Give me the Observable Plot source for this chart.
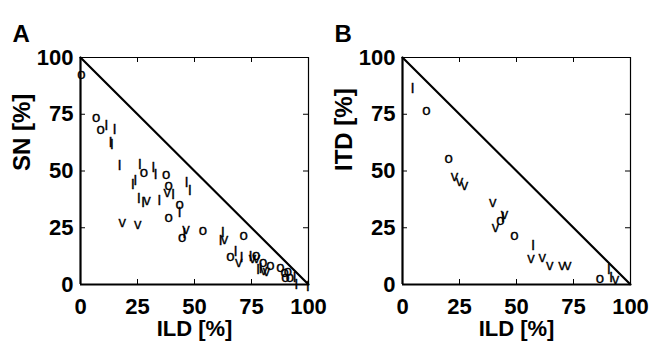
<!DOCTYPE html>
<html><head><meta charset="utf-8">
<script src="https://cdn.jsdelivr.net/npm/d3@7"></script>
<script src="https://cdn.jsdelivr.net/npm/@observablehq/plot@0.6"></script>
<style>
body{margin:0;background:#fff;}
#chart{display:flex;width:653px;height:350px;}
#chart svg{display:block;}
</style></head><body><div id="chart"></div>
<script>
const tickValues = [0, 25, 50, 75, 100];
const innerTicks = [25, 50, 75];
const diagonal = [{x: 0, y: 100}, {x: 100, y: 0}];

// Panel A: ILD vs SN, marker symbols
const aSym = ["o","o","o","I","I","I","I","I","I","o","I","I","o","I","I","o","v","I","I","I","I","I","v","I","o","I","o","v","v","v","I","o","o","I","v","I","o","o","I","v","I","I","v","v","o","I","I","v","v","o","o","o","o","o","o","o","I","I","I"];
const aILD = [0.4,6.9,8.8,11.3,15,13.2,13.7,17.1,26,27.8,31.9,32.9,37.6,22.9,24.1,38.7,38,40.6,46.5,47.9,25.6,27.5,29.2,34.6,43.5,43.5,38.7,18.3,25.1,46.3,45.5,44.6,53.7,62.4,63.2,61.4,71.6,65.8,68,69.4,70.6,74.6,75.4,77.2,77,77.9,79,80.4,81.6,80.1,83.3,87.7,89.5,89.9,91.8,91,93.9,94.7,99.7];
const aSN  = [92.8,73.7,68.6,70,68.6,62.8,62,52.4,53.2,49.5,51.7,48.5,48.8,44.3,46.1,43.6,40.8,40,45.1,41.4,38,36.3,37,37,35.5,31.9,29.7,27.6,26.7,24.5,22.8,20.9,23.8,23.1,19.8,19.4,21.6,12.5,14.8,10,12,12.3,11.5,11.5,12.8,6.9,7,6.2,6,9.9,8.4,7.6,5.5,3.2,3.2,6,3.2,0.3,-0.6];

// Panel B: ILD vs ITD
const bSym = ["I","o","o","v","v","v","v","v","o","I","v","o","I","v","v","v","v","v","o","I","I","v"];
const bILD = [4.4,10.5,20.2,22.8,25,27.2,39.6,40.8,43,44,44.7,49.1,57.3,56.4,61.3,64.6,70,72.5,86.6,90.5,91.5,93.4];
const bITD = [86.6,76.7,55.5,47.6,45.4,43.6,36.3,25.3,28.2,29.5,31.1,21.6,17.2,11.7,12,8.4,8.4,8.4,3,6.9,3.2,2.2];

const FONT = "'Liberation Sans', Arial, Helvetica, sans-serif";

function panel({letter, yLabel, sym, xs, ys, width, marginLeft, marginRight}) {
  const data = sym.map((s, i) => ({s, x: xs[i], y: ys[i]}));
  const frameW = width - marginLeft - marginRight;
  const frameH = 350 - 57 - 66;
  return Plot.plot({
    width, height: 350,
    marginLeft, marginRight, marginTop: 57, marginBottom: 66,
    style: {fontFamily: FONT, background: "#fff", color: "#000", overflow: "visible"},
    x: {domain: [0, 100]},
    y: {domain: [0, 100]},
    marks: [
      Plot.tickX(innerTicks, {x: d => d, insetTop: frameH - 5, stroke: "#000", strokeWidth: 1}),
      Plot.tickX(innerTicks, {x: d => d, insetBottom: frameH - 5, stroke: "#000", strokeWidth: 1}),
      Plot.tickY(innerTicks, {y: d => d, insetRight: frameW - 5, stroke: "#000", strokeWidth: 1}),
      Plot.tickY(innerTicks, {y: d => d, insetLeft: frameW - 5, stroke: "#000", strokeWidth: 1}),
      Plot.ruleX([100], {stroke: "#000", strokeWidth: 1.2}),
      Plot.ruleY([100], {stroke: "#000", strokeWidth: 1.2}),
      Plot.ruleX([0], {stroke: "#000", strokeWidth: 2.2}),
      Plot.ruleY([0], {stroke: "#000", strokeWidth: 2.2}),
      Plot.line(diagonal, {x: "x", y: "y", stroke: "#000", strokeWidth: 2.2}),
      Plot.text(data, {x: "x", y: "y", text: "s", fontSize: 15, fontWeight: "normal", fill: "#000", stroke: "#000", strokeWidth: 0.3}),
      Plot.axisX({ticks: tickValues, tickSize: 0, tickPadding: 14, fontSize: 22, fontWeight: "bold", label: null}),
      Plot.axisY({ticks: tickValues, tickSize: 0, tickPadding: 7, fontSize: 22, fontWeight: "bold", label: null}),
      Plot.text(["ILD [%]"], {frameAnchor: "bottom", dy: 51, fontSize: 22, fontWeight: "bold", fill: "#000"}),
      Plot.text([yLabel], {frameAnchor: "left", dx: -58, rotate: -90, fontSize: 24, fontWeight: "bold", fill: "#000"}),
      Plot.text([letter], {frameAnchor: "top-left", dx: -68, dy: -33, textAnchor: "start", fontSize: 24, fontWeight: "bold", fill: "#000"})
    ]
  });
}

const chart = document.getElementById("chart");
chart.append(panel({letter: "A", yLabel: "SN [%]", sym: aSym, xs: aILD, ys: aSN, width: 330, marginLeft: 80, marginRight: 22}));
chart.append(panel({letter: "B", yLabel: "ITD [%]", sym: bSym, xs: bILD, ys: bITD, width: 323, marginLeft: 72, marginRight: 23}));
</script></body></html>
